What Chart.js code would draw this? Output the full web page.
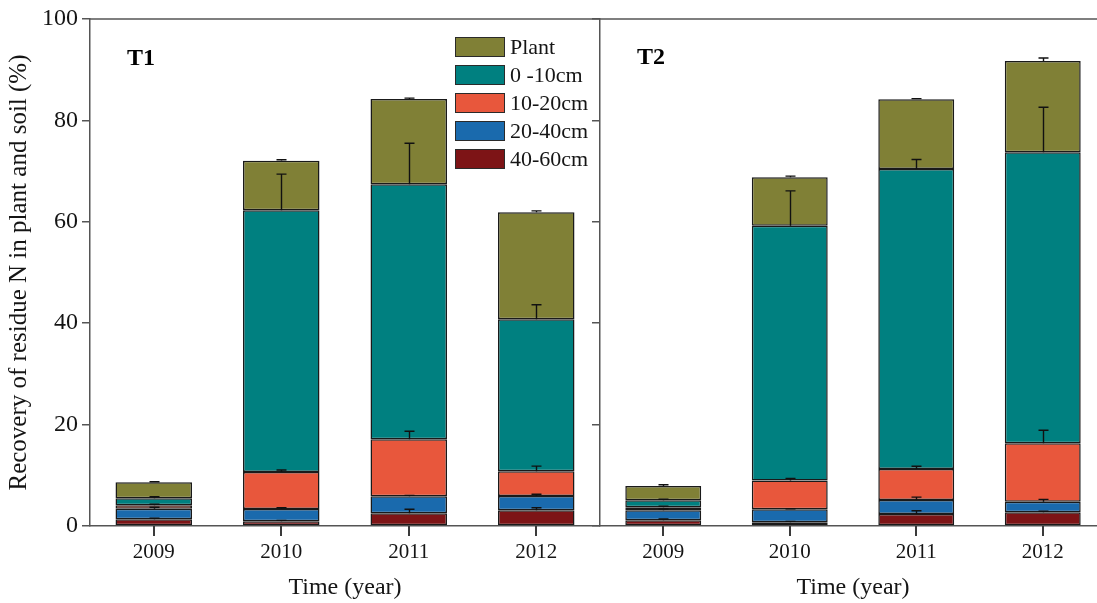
<!DOCTYPE html>
<html>
<head>
<meta charset="utf-8">
<script src="https://cdn.jsdelivr.net/npm/chart.js@4/dist/chart.umd.min.js"></script>
<style>
  html, body { margin: 0; padding: 0; background: #fff; overflow: hidden; width: 1097px; height: 603px; }
  canvas { position: absolute; top: 0; }
  #t1 { left: 0; }
  #t2 { left: 590px; }
</style>
</head>
<body>
<canvas id="t1" width="600" height="603"></canvas>
<canvas id="t2" width="516" height="603"></canvas>
<script>
// Sampling years
const years = ['2009', '2010', '2011', '2012'];

// Layer names (stack order, bottom to top) and fill colours
const layerNames = ['40-60cm', '20-40cm', '10-20cm', '0 -10cm', 'Plant'];
const layerColors = ['#7d1416', '#1a6aad', '#e8573c', '#008080', '#808036'];

// Treatment T1: recovery (%) per layer
const t1Deep  = [1.32, 0.93, 2.50, 3.10];   // 40-60 cm
const t1Mid   = [2.09, 2.42, 3.35, 2.80];   // 20-40 cm
const t1Sub   = [0.67, 7.30, 11.25, 4.90];  // 10-20 cm
const t1Top   = [1.38, 51.65, 50.30, 30.00];// 0-10 cm
const t1Plant = [3.16, 9.75, 16.80, 21.10]; // plant

// Treatment T1: standard deviation per layer
const t1DeepSd  = [0.20, 0.17, 0.80, 0.50];
const t1MidSd   = [0.30, 0.25, 0.20, 0.35];
const t1SubSd   = [0.20, 0.40, 1.60, 1.00];
const t1TopSd   = [0.30, 7.10, 8.10, 2.85];
const t1PlantSd = [0.10, 0.20, 0.20, 0.25];

// Treatment T2: recovery (%) per layer
const t2Deep  = [1.12, 0.72, 2.37, 2.70];
const t2Mid   = [1.98, 2.56, 2.76, 2.10];
const t2Sub   = [0.59, 5.67, 6.11, 11.50];
const t2Top   = [1.38, 50.25, 59.16, 57.40];
const t2Plant = [2.82, 9.60, 13.75, 18.00];

// Treatment T2: standard deviation per layer
const t2DeepSd  = [0.25, 0.20, 0.65, 0.20];
const t2MidSd   = [0.25, 0.10, 0.57, 0.45];
const t2SubSd   = [0.20, 0.45, 0.55, 2.60];
const t2TopSd   = [0.20, 6.90, 1.90, 8.90];
const t2PlantSd = [0.25, 0.20, 0.15, 0.60];

// Y axis ticks
const yTicks = [0, 20, 40, 60, 80, 100];

const SERIF = '"Liberation Serif", "Times New Roman", Times, serif';
const AXIS_COLOR = '#555555';
const TEXT_COLOR = '#151515';

// Error bars: a stem from each segment top up by its SD, with a small cap
const errorBars = {
  id: 'errorBars',
  afterDatasetsDraw(chart) {
    const ctx = chart.ctx;
    const y = chart.scales.y;
    ctx.save();
    ctx.strokeStyle = '#111';
    ctx.lineWidth = 1.4;
    chart.data.datasets.forEach((ds, di) => {
      const meta = chart.getDatasetMeta(di);
      meta.data.forEach((bar, i) => {
        // stacked top value of this segment
        let top = 0;
        for (let k = 0; k <= di; k++) top += chart.data.datasets[k].data[i];
        const yTop = y.getPixelForValue(top);
        const yErr = y.getPixelForValue(top + ds.sd[i]);
        const x = Math.round(bar.x) + 0.5;
        ctx.beginPath();
        ctx.moveTo(x, yTop);
        ctx.lineTo(x, yErr);
        ctx.moveTo(x - 5, yErr);
        ctx.lineTo(x + 5, yErr);
        ctx.stroke();
      });
    });
    ctx.restore();
  }
};

// Top frame line and category tick marks under the x axis
const frameAndTicks = {
  id: 'frameAndTicks',
  afterDraw(chart) {
    const ctx = chart.ctx;
    const area = chart.chartArea;
    const xs = chart.scales.x;
    ctx.save();
    ctx.strokeStyle = AXIS_COLOR;
    ctx.lineWidth = 1.5;
    ctx.beginPath();
    ctx.moveTo(area.left, area.top);
    ctx.lineTo(area.right, area.top);
    ctx.stroke();
    ctx.fillStyle = '#3a3a3a';
    const y0 = Math.round(xs.top);
    years.forEach((yr, i) => {
      const px = Math.round(xs.getPixelForTick(i));
      ctx.fillRect(px - 1, y0, 2, 10);
    });
    ctx.restore();
  }
};

// Panel label (T1 / T2)
const panelLabel = {
  id: 'panelLabel',
  afterDraw(chart, args, opts) {
    const ctx = chart.ctx;
    ctx.save();
    ctx.font = 'bold 24px ' + SERIF;
    ctx.fillStyle = '#000';
    ctx.textBaseline = 'alphabetic';
    ctx.fillText(opts.text, opts.x, opts.y);
    ctx.restore();
  }
};

// Boxed legend, top layer listed first
const boxLegend = {
  id: 'boxLegend',
  afterDraw(chart, args, opts) {
    if (!opts.show) return;
    const ctx = chart.ctx;
    const dsets = chart.data.datasets.slice().reverse();
    ctx.save();
    ctx.font = '22px ' + SERIF;
    ctx.textBaseline = 'middle';
    dsets.forEach((ds, i) => {
      const y = opts.y + i * 28;
      ctx.fillStyle = ds.backgroundColor;
      ctx.fillRect(opts.x, y, 50, 20);
      ctx.strokeStyle = '#2a2a2a';
      ctx.lineWidth = 1;
      ctx.strokeRect(opts.x + 0.5, y + 0.5, 49, 19);
      ctx.fillStyle = TEXT_COLOR;
      ctx.fillText(ds.label, opts.x + 55, y + 11);
    });
    ctx.restore();
  }
};

function makeDatasets(layers, sds) {
  return layers.map((vals, k) => ({
    label: layerNames[k],
    data: vals,
    sd: sds[k],
    backgroundColor: layerColors[k],
    borderColor: '#1a1a1a',
    borderWidth: 1.5,
    borderSkipped: false,
    barPercentage: 0.6,
    categoryPercentage: 1.0
  }));
}

function makeChart(id, layers, sds, label, labelPos, isLeft) {
  return new Chart(document.getElementById(id), {
    type: 'bar',
    data: { labels: years, datasets: makeDatasets(layers, sds) },
    plugins: [errorBars, frameAndTicks, panelLabel, boxLegend],
    options: {
      responsive: false,
      animation: false,
      devicePixelRatio: 1,
      layout: { padding: { top: 19, left: 0, right: 0, bottom: 0 } },
      plugins: {
        legend: { display: false },
        tooltip: { enabled: false },
        panelLabel: { text: label, x: labelPos[0], y: labelPos[1] },
        boxLegend: { show: isLeft, x: 455, y: 37 }
      },
      scales: {
        x: {
          stacked: true,
          afterFit(s) { s.height = 77; },
          grid: { display: false, tickLength: 9 },
          border: { display: true, color: AXIS_COLOR, width: 1.5 },
          ticks: { color: TEXT_COLOR, font: { family: SERIF, size: 21 }, padding: 5, maxRotation: 0 },
          title: { display: true, text: 'Time (year)', color: TEXT_COLOR,
                   font: { family: SERIF, size: 24 }, padding: { top: 0, bottom: 1 } }
        },
        y: {
          stacked: true,
          min: 0,
          max: 100,
          afterFit(s) { s.width = isLeft ? 90 : 10; },
          afterBuildTicks(s) { s.ticks = yTicks.map(v => ({ value: v })); },
          grid: { drawOnChartArea: false, drawTicks: true, tickLength: 8, color: AXIS_COLOR, lineWidth: 1.5 },
          border: { display: true, color: AXIS_COLOR, width: 1.5 },
          ticks: {
            color: TEXT_COLOR,
            font: { family: SERIF, size: 24 },
            padding: 4,
            callback: (v) => isLeft ? String(v) : ''
          },
          title: {
            display: isLeft,
            text: 'Recovery of residue N in plant and soil (%)',
            color: TEXT_COLOR,
            font: { family: SERIF, size: 25 },
            padding: { top: 4, bottom: 0 }
          }
        }
      }
    }
  });
}

makeChart('t1',
  [t1Deep, t1Mid, t1Sub, t1Top, t1Plant],
  [t1DeepSd, t1MidSd, t1SubSd, t1TopSd, t1PlantSd],
  'T1', [127, 65], true);

makeChart('t2',
  [t2Deep, t2Mid, t2Sub, t2Top, t2Plant],
  [t2DeepSd, t2MidSd, t2SubSd, t2TopSd, t2PlantSd],
  'T2', [47, 64], false);
</script>
</body>
</html>
